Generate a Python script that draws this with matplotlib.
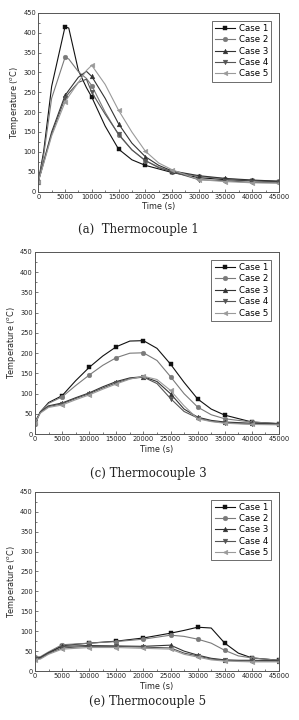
import matplotlib
matplotlib.use("Agg")
import matplotlib.pyplot as plt
import numpy as np
from matplotlib.ticker import MultipleLocator

cases = ["Case 1", "Case 2", "Case 3", "Case 4", "Case 5"]
markers = ["s", "o", "^", "v", "<"]
colors = ["#111111", "#7a7a7a", "#333333", "#555555", "#9a9a9a"]

# Thermocouple 1
t1 = [0, 1000, 2500, 5000, 5700, 7500, 9000, 10000, 12500, 15000, 17500,
      20000, 22500, 25000, 30000, 35000, 40000, 45000]
tc1_case1 = [25, 100, 265, 415, 412, 305, 262, 238, 165, 107, 80, 66, 57, 48, 35, 30, 27, 25]
tc1_case2 = [25, 90, 235, 338, 334, 302, 285, 267, 200, 143, 105, 78, 62, 50, 38, 32, 28, 26]
tc1_case3 = [25, 75, 150, 242, 255, 288, 303, 290, 235, 171, 122, 88, 66, 52, 40, 33, 29, 26]
tc1_case4 = [25, 72, 145, 235, 248, 275, 283, 250, 195, 145, 105, 78, 60, 50, 30, 27, 23, 22]
tc1_case5 = [25, 70, 140, 225, 240, 275, 305, 318, 270, 205, 150, 102, 72, 55, 30, 25, 22, 21]

# Thermocouple 3
t3 = [0, 1000, 2500, 5000, 7500, 10000, 12500, 15000, 17500, 20000, 22500,
      25000, 27500, 30000, 32500, 35000, 40000, 45000]
tc3_case1 = [25, 55, 78, 95, 132, 165, 193, 216, 230, 231, 212, 173, 128, 87, 62, 47, 30, 26]
tc3_case2 = [25, 55, 76, 92, 120, 146, 170, 189, 200, 201, 182, 142, 100, 67, 48, 38, 30, 26]
tc3_case3 = [30, 55, 70, 77, 90, 102, 117, 130, 139, 142, 130, 100, 62, 42, 34, 30, 27, 25]
tc3_case4 = [30, 54, 68, 75, 88, 100, 114, 127, 137, 141, 125, 88, 56, 40, 32, 28, 25, 24]
tc3_case5 = [28, 52, 66, 72, 85, 97, 111, 124, 136, 143, 135, 108, 70, 38, 31, 27, 24, 23]

# Thermocouple 5
t5 = [0, 1000, 2500, 5000, 10000, 15000, 20000, 25000, 27500, 30000, 32500,
      35000, 37500, 40000, 45000]
tc5_case1 = [30, 33, 45, 64, 70, 75, 83, 95, 102, 110, 108, 70, 45, 33, 27]
tc5_case2 = [35, 36, 48, 66, 70, 74, 80, 90, 87, 80, 70, 52, 38, 33, 27]
tc5_case3 = [32, 34, 46, 62, 64, 63, 62, 65, 50, 40, 32, 28, 27, 27, 26]
tc5_case4 = [30, 32, 44, 58, 62, 62, 60, 58, 45, 38, 30, 27, 26, 25, 25]
tc5_case5 = [28, 30, 42, 55, 59, 59, 57, 55, 42, 35, 28, 25, 24, 23, 23]

panels = [
    (t1, [tc1_case1, tc1_case2, tc1_case3, tc1_case4, tc1_case5], "(a)  Thermocouple 1"),
    (t3, [tc3_case1, tc3_case2, tc3_case3, tc3_case4, tc3_case5], "(c) Thermocouple 3"),
    (t5, [tc5_case1, tc5_case2, tc5_case3, tc5_case4, tc5_case5], "(e) Thermocouple 5"),
]

# axes boxes [left, bottom, width, height] and caption position
boxes = [[0.128, 0.734, 0.805, 0.248],
         [0.117, 0.397, 0.816, 0.253],
         [0.117, 0.068, 0.816, 0.249]]
cap_y = [0.681, 0.343, 0.026]
cap_x = [0.462, 0.495, 0.495]

fig = plt.figure(figsize=(2.99, 7.2), dpi=100)

for (t, series, caption), box, cy, cx in zip(panels, boxes, cap_y, cap_x):
    ax = fig.add_axes(box)
    t = np.array(t)
    mask = (t % 5000 == 0)
    for y, name, m, c in zip(series, cases, markers, colors):
        ax.plot(t, y, color=c, lw=0.8, marker=m, markersize=3.4,
                markevery=list(np.where(mask)[0]), label=name,
                markeredgewidth=0.3)
    ax.set_xlim(0, 45000)
    ax.set_ylim(0, 450)
    ax.xaxis.set_major_locator(MultipleLocator(5000))
    ax.xaxis.set_minor_locator(MultipleLocator(2500))
    ax.yaxis.set_major_locator(MultipleLocator(50))
    ax.yaxis.set_minor_locator(MultipleLocator(25))
    ax.tick_params(which="both", direction="in", labelsize=4.8, pad=1.5,
                   color="#444444", labelcolor="#222222")
    ax.tick_params(which="major", length=2.5, width=0.5)
    ax.tick_params(which="minor", length=1.5, width=0.5)
    for s in ax.spines.values():
        s.set_linewidth(0.7)
        s.set_color("#555555")
    ax.set_xlabel("Time (s)", fontsize=5.9, labelpad=2, color="#222222")
    ax.set_ylabel("Temperature ($^{o}$C)", fontsize=5.9, labelpad=1.5,
                  color="#222222")
    leg = ax.legend(loc="upper right", bbox_to_anchor=(0.985, 0.98),
                    fontsize=6.2, handlelength=2.4, handletextpad=0.4,
                    borderpad=0.35, labelspacing=0.28, fancybox=False,
                    framealpha=1)
    leg.get_frame().set_edgecolor("#555555")
    leg.get_frame().set_linewidth(0.6)
    fig.text(cx, cy, caption, ha="center", va="center", fontsize=8.5,
             family="DejaVu Serif", color="#222222")

fig.savefig("out.png", dpi=100)
